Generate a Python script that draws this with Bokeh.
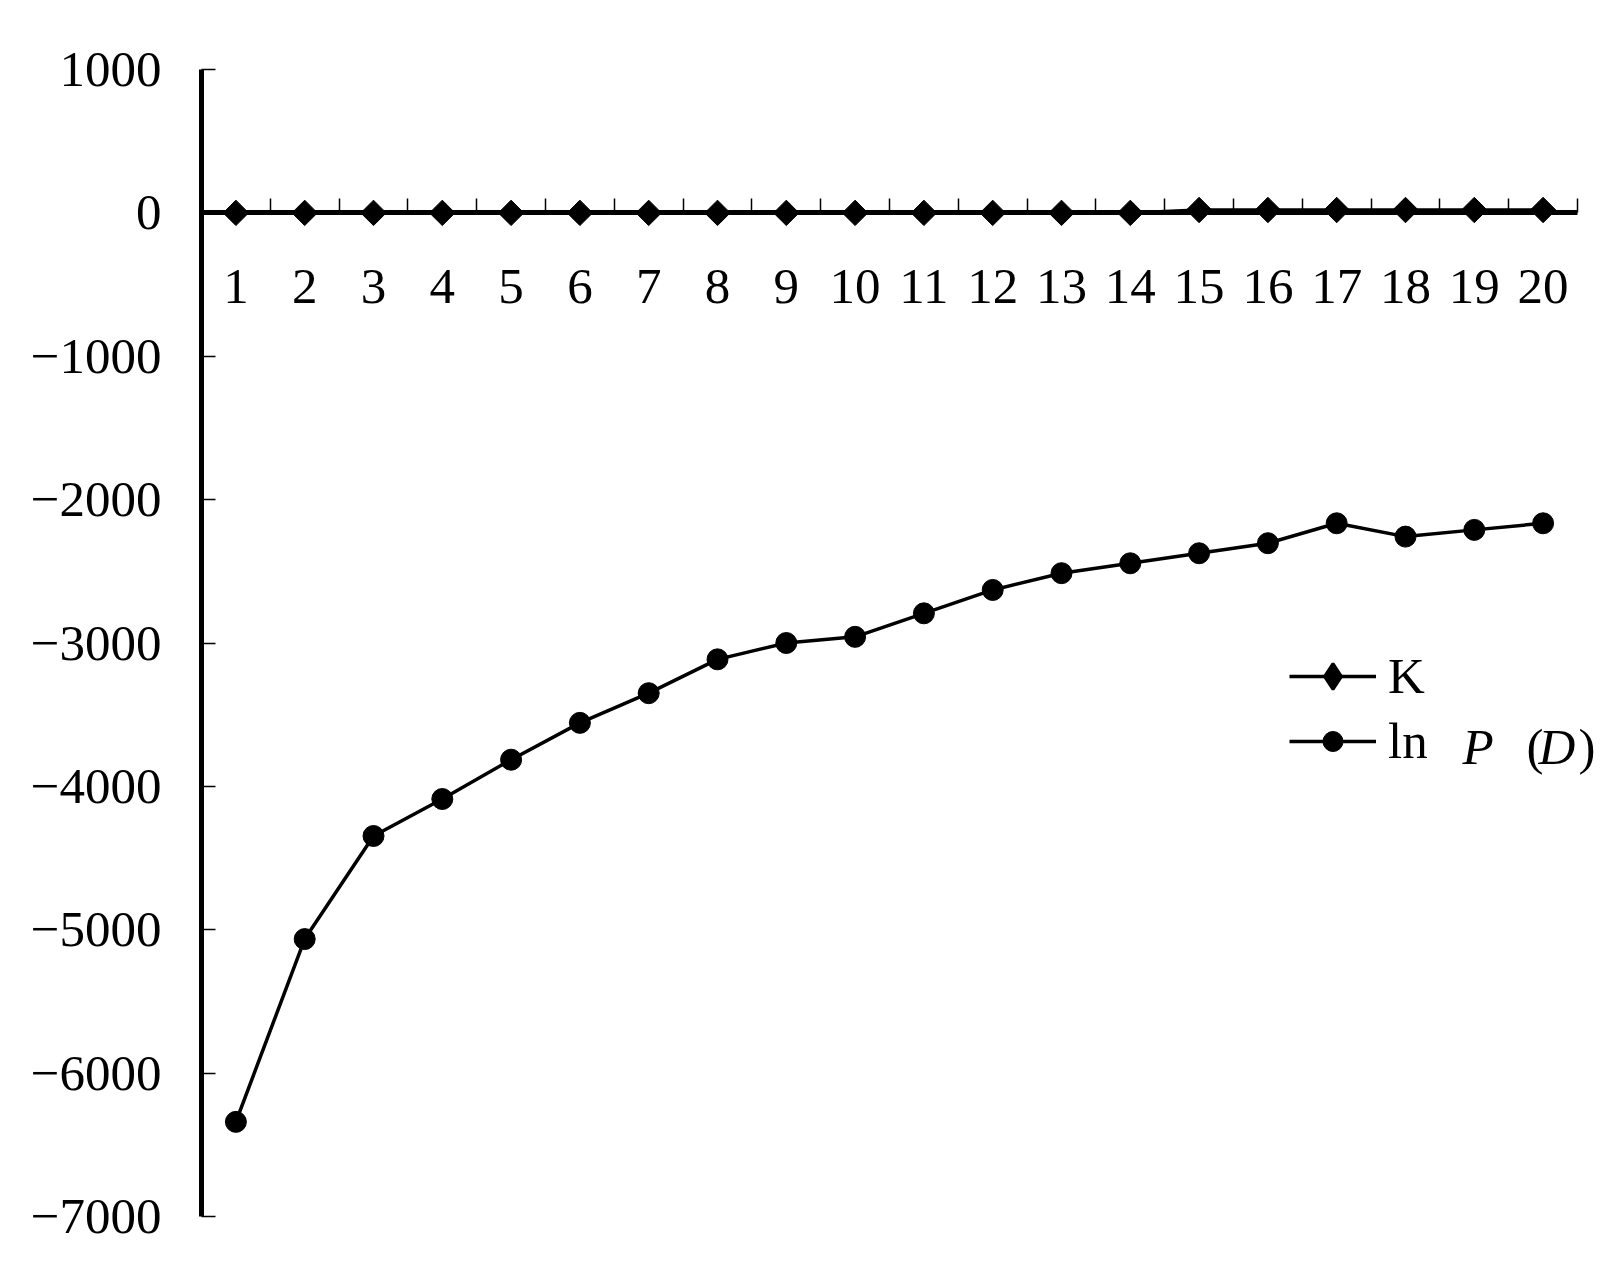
import numpy as np
from bokeh.plotting import figure
from bokeh.models import (LinearAxis, FixedTicker, Range1d, Legend, LegendItem, Label,
                          ColumnDataSource)
from bokeh.embed import file_html
from bokeh.resources import INLINE

# ---- data ----
categories = [1, 2, 3, 4, 5, 6, 7, 8, 9, 10, 11, 12, 13, 14, 15, 16, 17, 18, 19, 20]
k_values = [0, 0, 0, 0, 0, 0, 0, 0, 0, 0, 0, 0, 0, 0, 20, 20, 20, 20, 20, 20]
lnp_values = [-6340, -5065, -4346, -4088, -3814, -3557, -3350, -3114, -3000, -2957,
              -2793, -2630, -2513, -2444, -2374, -2304, -2165, -2258, -2211, -2165]
y_ticks = [-7000, -6000, -5000, -4000, -3000, -2000, -1000, 0, 1000]
y_tick_labels = ["\u22127000", "\u22126000", "\u22125000", "\u22124000", "\u22123000",
                 "\u22122000", "\u22121000", "0", "1000"]
x_tick_labels = ["1", "2", "3", "4", "5", "6", "7", "8", "9", "10",
                 "11", "12", "13", "14", "15", "16", "17", "18", "19", "20"]

FONT = "Liberation Serif"
FS = "51px"

UNIT = 68.8            # px per category
FRAME_W = 1399
x_lo = categories[0] - 0.5
x_hi_axis = categories[-1] + 0.5

p = figure(frame_width=FRAME_W, frame_height=1147,
           min_border_left=201, min_border_top=69, min_border_bottom=30, min_border_right=0,
           x_range=Range1d(x_lo, x_lo + FRAME_W / UNIT), y_range=Range1d(-7000, 1000),
           x_axis_type=None, y_axis_type=None,
           output_backend="svg", toolbar_location=None)
p.outline_line_color = None
p.background_fill_color = "white"
p.border_fill_color = "white"

# y axis
yax = LinearAxis(ticker=FixedTicker(ticks=y_ticks),
                 major_label_overrides={t: s for t, s in zip(y_ticks, y_tick_labels)},
                 axis_line_width=5, axis_line_color="black",
                 major_tick_in=14, major_tick_out=0, major_tick_line_width=1.5,
                 major_tick_line_color="black",
                 minor_tick_line_color=None,
                 major_label_text_font=FONT, major_label_text_font_size=FS,
                 major_label_text_color="black", major_label_standoff=40)
p.add_layout(yax, "left")

# x axis at y = 0 : labels + axis line
xax = LinearAxis(fixed_location=0, ticker=FixedTicker(ticks=categories),
                 bounds=(x_lo, x_hi_axis),
                 major_label_overrides={c: s for c, s in zip(categories, x_tick_labels)},
                 axis_line_width=5, axis_line_color="black",
                 major_tick_in=0, major_tick_out=0, major_tick_line_color=None,
                 minor_tick_line_color=None,
                 major_label_text_font=FONT, major_label_text_font_size=FS,
                 major_label_text_color="black", major_label_standoff=57)
p.add_layout(xax, "below")

# x axis boundary ticks
xticks = LinearAxis(fixed_location=0, ticker=FixedTicker(ticks=[c + 0.5 for c in categories]),
                    bounds=(x_lo, x_hi_axis),
                    axis_line_color=None, major_tick_in=14, major_tick_out=0,
                    major_tick_line_width=1.5, major_tick_line_color="black",
                    minor_tick_line_color=None, major_label_text_color=None,
                    major_label_text_font_size="1px")
p.add_layout(xticks, "below")

# series
kl = p.line(categories, k_values, line_width=3.5, line_color="black")
ks = p.scatter(categories, k_values, marker="square", angle=np.pi / 4, size=18,
               fill_color="black", line_color="black")
pl = p.line(categories, lnp_values, line_width=3.5, line_color="black")
ps = p.scatter(categories, lnp_values, marker="circle", size=21,
               fill_color="black", line_color="black")

# legend-only diamond swatch (point is not drawn: y is NaN)
k_swatch = p.scatter(x="x", y="y",
                     source=ColumnDataSource(dict(x=[categories[0]], y=[float("nan")])),
                     marker="diamond", fill_color="black", line_color="black",
                     line_width=3)

common = dict(padding=0, margin=0, border_line_color=None, background_fill_alpha=0,
              label_text_font=FONT, label_text_font_size=FS, label_text_color="black",
              label_standoff=12, glyph_width=87)

legend_k = Legend(items=[LegendItem(label="K", renderers=[kl, k_swatch])],
                  location=(1088, 508), glyph_height=64, label_height=64, **common)
legend_p = Legend(items=[LegendItem(label="ln", renderers=[pl, ps])],
                  location=(1088, 446), glyph_height=50, label_height=50, **common)
p.add_layout(legend_k)
p.add_layout(legend_p)

row_y = 470
for txt, xx, style in [("P", 1261, "italic"), ("(", 1325, "normal"),
                       ("D", 1337, "italic"), (")", 1377, "normal")]:
    p.add_layout(Label(x=xx, y=row_y, x_units="screen", y_units="screen", text=txt,
                       text_font=FONT, text_font_size=FS, text_font_style=style,
                       text_baseline="middle", text_color="black"))

open("out.html", "w").write(file_html(p, INLINE))
